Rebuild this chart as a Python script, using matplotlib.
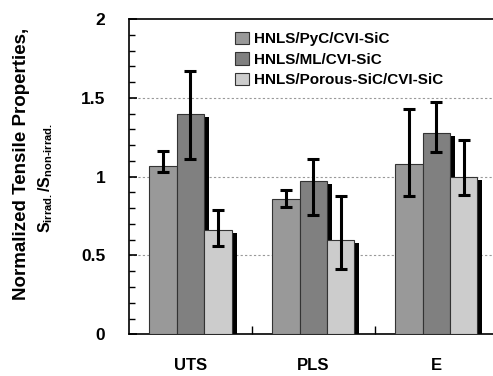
import matplotlib
matplotlib.use("Agg")
import matplotlib.pyplot as plt
from matplotlib.ticker import MultipleLocator, FixedLocator
import numpy as np

plt.rcParams['font.family'] = ['Liberation Sans', 'DejaVu Sans']
plt.rcParams['font.weight'] = 'bold'
plt.rcParams['mathtext.fontset'] = 'custom'
plt.rcParams['mathtext.rm'] = 'Liberation Sans:bold'
plt.rcParams['mathtext.bf'] = 'Liberation Sans:bold'
plt.rcParams['mathtext.it'] = 'Liberation Sans:bold'

categories = ["UTS", "PLS", "E"]
series_names = ["HNLS/PyC/CVI-SiC", "HNLS/ML/CVI-SiC", "HNLS/Porous-SiC/CVI-SiC"]
values = {
    "HNLS/PyC/CVI-SiC": [1.07, 0.86, 1.08],
    "HNLS/ML/CVI-SiC": [1.40, 0.975, 1.28],
    "HNLS/Porous-SiC/CVI-SiC": [0.66, 0.60, 1.00],
}
err_high = {
    "HNLS/PyC/CVI-SiC": [1.165, 0.914, 1.431],
    "HNLS/ML/CVI-SiC": [1.671, 1.112, 1.474],
    "HNLS/Porous-SiC/CVI-SiC": [0.787, 0.876, 1.235],
}
err_low = {
    "HNLS/PyC/CVI-SiC": [1.03, 0.806, 0.879],
    "HNLS/ML/CVI-SiC": [1.112, 0.757, 1.155],
    "HNLS/Porous-SiC/CVI-SiC": [0.560, 0.416, 0.886],
}
colors = ["#999999", "#808080", "#cccccc"]
y_ticks = [0, 0.5, 1, 1.5, 2]
y_tick_labels = ["0", "0.5", "1", "1.5", "2"]

W, H = 493, 376
fig = plt.figure(figsize=(W / 100, H / 100), dpi=100)
ax = fig.add_axes([129 / W, (H - 334.3) / H, 368.7 / W, (334.3 - 19) / H])

bw = 0.223
x0 = np.arange(len(categories)) + 0.5
dx_sh = 5 / 122.7
dy_sh = 3 / 157.6

for i, name in enumerate(series_names):
    xs = x0 + (i - 1) * bw
    vals = np.array(values[name])
    ax.bar(xs + dx_sh, vals, bw, bottom=-dy_sh, color="black", edgecolor="none", zorder=2)
for i, name in enumerate(series_names):
    xs = x0 + (i - 1) * bw
    vals = np.array(values[name])
    ax.bar(xs, vals, bw, color=colors[i], edgecolor="#333333", linewidth=0.8, zorder=3 + i * 0.1,
           label=name)
for i, name in enumerate(series_names):
    xs = x0 + (i - 1) * bw
    vals = np.array(values[name])
    hi = np.array(err_high[name]) - vals
    lo = vals - np.array(err_low[name])
    ax.errorbar(xs, vals, yerr=[lo, hi], fmt="none", ecolor="black", elinewidth=2.2,
                capsize=4, capthick=2.2, zorder=5)

ax.set_xlim(0, 3)
ax.set_ylim(0, 2)
for y in [0.5, 1.0, 1.5]:
    ax.axhline(y, color="#999999", linestyle=(0, (2, 2)), linewidth=0.8, zorder=1)

ax.spines['right'].set_visible(False)
for s in ['left', 'bottom', 'top']:
    ax.spines[s].set_linewidth(1.2)

ax.yaxis.set_major_locator(FixedLocator(y_ticks))
ax.set_yticklabels(y_tick_labels)
ax.yaxis.set_minor_locator(MultipleLocator(0.1))
ax.tick_params(axis='y', which='major', direction='in', length=6, width=1.2, pad=17, labelsize=12.5)
ax.tick_params(axis='y', which='minor', direction='in', length=4, width=1.0)

ax.xaxis.set_major_locator(FixedLocator([1, 2]))
ax.xaxis.set_major_formatter(plt.NullFormatter())
ax.xaxis.set_minor_locator(FixedLocator(list(x0)))
ax.set_xticklabels(categories, minor=True)
ax.tick_params(axis='x', which='major', direction='in', length=6, width=1.0)
ax.tick_params(axis='x', which='minor', length=0, pad=17, labelsize=12)

fig.text(22 / W, 1 - 164 / H, "Normalized Tensile Properties,", rotation=90,
         ha='center', va='center', fontsize=13.5, fontweight='bold')
fig.text(46 / W, 1 - 178 / H, r"S$_{\mathbf{irrad.}}$/S$_{\mathbf{non\text{-}irrad.}}$", rotation=90,
         ha='center', va='center', fontsize=11.5, fontweight='bold')

leg = ax.legend(loc='upper left', bbox_to_anchor=(235 / W, 1 - 32 / H), bbox_transform=fig.transFigure,
                frameon=False, fontsize=11, handlelength=0.92, handleheight=0.85,
                handletextpad=0.33, labelspacing=0.4, borderpad=0, borderaxespad=0)

fig.savefig("out.png", dpi=100)
